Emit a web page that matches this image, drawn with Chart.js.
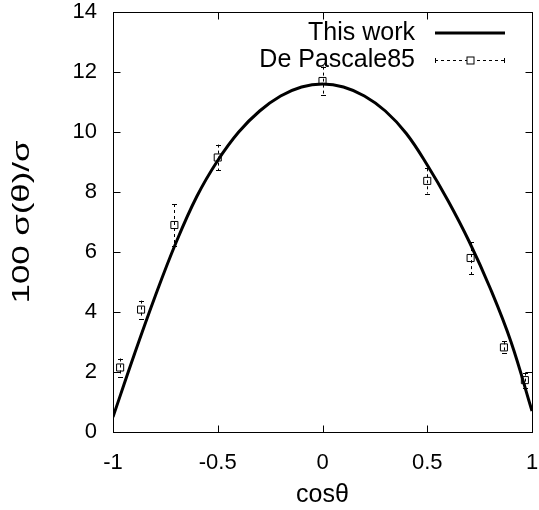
<!DOCTYPE html>
<html>
<head>
<meta charset="utf-8">
<script src="https://cdn.jsdelivr.net/npm/chart.js@4.4.1/dist/chart.umd.min.js"></script>
<style>
  html, body { margin: 0; padding: 0; background: #fff; }
  #wrap { width: 539px; height: 510px; }
</style>
</head>
<body>
<div id="wrap"><canvas id="myChart"></canvas></div>
<script>
// theory curve
const curveX = [-1, -0.9, -0.8, -0.7, -0.6, -0.5, -0.4, -0.3, -0.2, -0.1, 0, 0.1, 0.2, 0.3, 0.4, 0.5, 0.6, 0.7, 0.8, 0.9, 1];
const curveY = [0.5, 2.55, 4.5, 6.3, 7.85, 9.05, 10.0, 10.7, 11.2, 11.5, 11.6, 11.5, 11.2, 10.7, 9.95, 8.9, 7.7, 6.35, 4.8, 3.0, 0.7];

// De Pascale85 data with errors
const deX = [-0.966, -0.866, -0.707, -0.5, 0, 0.5, 0.707, 0.866, 0.966];
const deY = [2.15, 4.08, 6.9, 9.15, 11.7, 8.37, 5.8, 2.82, 1.73];
const deErr = [0.3, 0.3, 0.7, 0.43, 0.48, 0.42, 0.53, 0.2, 0.25];

const xTicks = [-1, -0.5, 0, 0.5, 1];
const yTicks = [0, 2, 4, 6, 8, 10, 12, 14];

const FONT = "'Liberation Sans', Arial, sans-serif";
Chart.defaults.font.family = FONT;
Chart.defaults.color = '#000';

// frame + inward ticks, gnuplot style
const framePlugin = {
    id: 'frame',
    afterDraw(chart) {
        const ctx = chart.ctx, a = chart.chartArea;
        const xs = chart.scales.x, ys = chart.scales.y;
        const L = Math.round(a.left) + 0.5, R = Math.round(a.right) + 0.5;
        const T = Math.round(a.top) + 0.5, B = Math.round(a.bottom) + 0.5;
        ctx.save();
        ctx.strokeStyle = '#000';
        ctx.lineWidth = 1;
        ctx.beginPath();
        xTicks.forEach(v => {
            const px = Math.round(xs.getPixelForValue(v)) + 0.5;
            ctx.moveTo(px, B); ctx.lineTo(px, B - 7);
            ctx.moveTo(px, T); ctx.lineTo(px, T + 7);
        });
        yTicks.forEach(v => {
            const py = Math.round(ys.getPixelForValue(v)) + 0.5;
            ctx.moveTo(L, py); ctx.lineTo(L + 7, py);
            ctx.moveTo(R, py); ctx.lineTo(R - 7, py);
        });
        ctx.stroke();
        ctx.strokeRect(L, T, R - L, B - T);

        // y axis title, slightly stretched along its length like the original
        ctx.translate(22, (a.top + a.bottom) / 2);
        ctx.rotate(-Math.PI / 2);
        ctx.scale(1.45, 1);
        ctx.font = '24px ' + FONT;
        ctx.fillStyle = '#000';
        ctx.textAlign = 'center';
        ctx.textBaseline = 'middle';
        ctx.fillText('100 σ(θ)/σ', 0, 0);
        ctx.restore();
    }
};

// dashed error bars
const errPlugin = {
    id: 'errbars',
    beforeDatasetsDraw(chart) {
        const ctx = chart.ctx;
        const xs = chart.scales.x, ys = chart.scales.y;
        ctx.save();
        ctx.strokeStyle = '#000';
        ctx.lineWidth = 1;
        for (let i = 0; i < deX.length; i++) {
            const px = Math.round(xs.getPixelForValue(deX[i])) + 0.5;
            const y1 = ys.getPixelForValue(deY[i] + deErr[i]);
            const y2 = ys.getPixelForValue(deY[i] - deErr[i]);
            ctx.setLineDash([3, 3]);
            ctx.beginPath();
            ctx.moveTo(px, y1); ctx.lineTo(px, y2);
            ctx.stroke();
            ctx.setLineDash([]);
            ctx.beginPath();
            ctx.moveTo(px - 2.5, Math.round(y1) + 0.5); ctx.lineTo(px + 2.5, Math.round(y1) + 0.5);
            ctx.moveTo(px - 2.5, Math.round(y2) + 0.5); ctx.lineTo(px + 2.5, Math.round(y2) + 0.5);
            ctx.stroke();
        }
        ctx.restore();
    }
};

// legend drawn like gnuplot: text right aligned, sample on the right
const keyPlugin = {
    id: 'key',
    afterDraw(chart) {
        const ctx = chart.ctx;
        const textR = 415, s1 = 435, s2 = 505;
        ctx.save();
        ctx.fillStyle = '#000';
        ctx.font = '25px ' + FONT;
        ctx.textAlign = 'right';
        ctx.textBaseline = 'middle';
        ctx.fillText('This work', textR, 33);
        ctx.fillText('De Pascale85', textR, 60);
        // line sample
        ctx.strokeStyle = '#000';
        ctx.lineWidth = 3;
        ctx.beginPath();
        ctx.moveTo(s1, 33); ctx.lineTo(s2, 33);
        ctx.stroke();
        // errorbar sample
        ctx.lineWidth = 1;
        ctx.setLineDash([3, 3]);
        ctx.beginPath();
        ctx.moveTo(s1, 60.5); ctx.lineTo(s2, 60.5);
        ctx.stroke();
        ctx.setLineDash([]);
        ctx.beginPath();
        ctx.moveTo(s1 + 0.5, 58); ctx.lineTo(s1 + 0.5, 63);
        ctx.moveTo(s2 - 0.5, 58); ctx.lineTo(s2 - 0.5, 63);
        ctx.stroke();
        const mx = Math.round((s1 + s2) / 2) + 0.5;
        ctx.fillStyle = '#fff';
        ctx.fillRect(mx - 3.5, 57, 7, 7);
        ctx.strokeRect(mx - 3.5, 57, 7, 7);
        ctx.restore();
    }
};

const theoryData = curveX.map((x, i) => ({ x: x, y: curveY[i] }));
const deData = deX.map((x, i) => ({ x: x, y: deY[i] }));

const noPad = s => { s.paddingTop = 0; s.paddingBottom = 0; s.paddingLeft = 0; s.paddingRight = 0; };

const ctx = document.getElementById('myChart').getContext('2d');
const myChart = new Chart(ctx, {
    type: 'scatter',
    data: {
        datasets: [
            {
                label: 'This work',
                data: theoryData,
                showLine: true,
                borderColor: '#000',
                borderWidth: 3,
                pointRadius: 0,
                tension: 0.4,
                order: 2
            },
            {
                label: 'De Pascale85',
                data: deData,
                showLine: false,
                pointStyle: 'rect',
                pointRadius: 5,
                pointBorderWidth: 1,
                pointBorderColor: '#000',
                pointBackgroundColor: 'rgba(0,0,0,0)',
                order: 1
            }
        ]
    },
    options: {
        responsive: true,
        maintainAspectRatio: false,
        animation: false,
        layout: { padding: { top: 12, right: 7, left: 0, bottom: 0 } },
        plugins: {
            legend: { display: false },
            tooltip: { enabled: false }
        },
        scales: {
            x: {
                type: 'linear',
                min: -1,
                max: 1,
                afterBuildTicks: s => { s.ticks = xTicks.map(v => ({ value: v })); },
                afterFit: s => { s.height = 78; noPad(s); },
                grid: { display: false, drawTicks: false },
                border: { display: false },
                ticks: {
                    font: { size: 22 },
                    padding: 18,
                    maxRotation: 0,
                    callback: v => String(v)
                },
                title: {
                    display: true,
                    text: 'cosθ',
                    font: { size: 25 },
                    padding: { top: 0, bottom: 0 }
                }
            },
            y: {
                type: 'linear',
                min: 0,
                max: 14,
                afterBuildTicks: s => { s.ticks = yTicks.map(v => ({ value: v })); },
                afterFit: s => { s.width = 113; noPad(s); },
                grid: { display: false, drawTicks: false },
                border: { display: false },
                ticks: {
                    font: { size: 22 },
                    padding: 16
                },
                title: { display: false }
            }
        }
    },
    plugins: [errPlugin, framePlugin, keyPlugin]
});
</script>
</body>
</html>
